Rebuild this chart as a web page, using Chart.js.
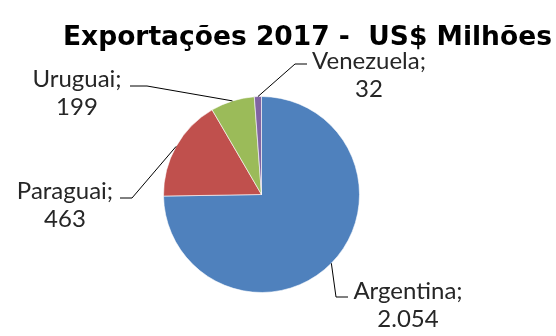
<!DOCTYPE html>
<html>
<head>
<meta charset="utf-8">
<script src="https://cdn.jsdelivr.net/npm/chart.js@4.4.0/dist/chart.umd.min.js"></script>
<style>
  html, body { margin: 0; padding: 0; background: #ffffff; }
  #wrap { width: 556px; height: 336px; position: relative; }
</style>
</head>
<body>
<div id="wrap"><canvas id="c" width="556" height="336"></canvas></div>
<script>
// Exports by destination, 2017 (US$ millions)
const categories = ['Argentina', 'Paraguai', 'Uruguai', 'Venezuela'];
const values = [2054, 463, 199, 32];
const valueLabels = ['2.054', '463', '199', '32'];
const titleText = 'Exportações 2017 -  US$ Milhões';

const sliceColors = ['#4F81BD', '#C0504D', '#9BBB59', '#8064A2'];

// Label placement: text centre / first baseline and leader-line elbow and end
const labelLayout = [
  { cx: 408, by: 299, elbow: [336, 297], end: [348, 297] },
  { cx: 65,  by: 199, elbow: [132, 198], end: [120, 198] },
  { cx: 77,  by: 87,  elbow: [147, 86],  end: [130, 86] },
  { cx: 369, by: 69,  elbow: [295, 64],  end: [307, 64] }
];

const LABEL_FONT = '24px Lato, "Open Sans", sans-serif';
const LINE_GAP = 28;

const titlePlugin = {
  id: 'titleText',
  afterDraw(chart) {
    const ctx = chart.ctx;
    ctx.save();
    ctx.font = 'bold 26.5px "DejaVu Sans", Verdana, sans-serif';
    ctx.fillStyle = '#000000';
    ctx.textAlign = 'left';
    ctx.textBaseline = 'alphabetic';
    ctx.fillText(titleText, 63, 45);
    ctx.restore();
  }
};

const leaderLabels = {
  id: 'leaderLabels',
  afterDatasetsDraw(chart) {
    const ctx = chart.ctx;
    const meta = chart.getDatasetMeta(0);
    ctx.save();
    meta.data.forEach((arc, i) => {
      const p = arc.getProps(['x', 'y', 'startAngle', 'endAngle', 'outerRadius'], true);
      const mid = (p.startAngle + p.endAngle) / 2;
      const ax = p.x + Math.cos(mid) * p.outerRadius;
      const ay = p.y + Math.sin(mid) * p.outerRadius;
      const L = labelLayout[i];
      ctx.beginPath();
      ctx.strokeStyle = '#000000';
      ctx.lineWidth = 1;
      ctx.moveTo(ax, ay);
      ctx.lineTo(L.elbow[0], L.elbow[1]);
      ctx.lineTo(L.end[0], L.end[1]);
      ctx.stroke();

      ctx.font = LABEL_FONT;
      ctx.fillStyle = '#262626';
      ctx.textAlign = 'center';
      ctx.textBaseline = 'alphabetic';
      ctx.fillText(categories[i] + ';', L.cx, L.by);
      ctx.fillText(valueLabels[i], L.cx, L.by + LINE_GAP);
    });
    ctx.restore();
  }
};

new Chart(document.getElementById('c'), {
  type: 'pie',
  data: {
    labels: categories,
    datasets: [{
      data: values,
      backgroundColor: sliceColors,
      borderColor: '#ffffff',
      borderWidth: 0.6
    }]
  },
  options: {
    responsive: false,
    animation: false,
    radius: 98,
    layout: { padding: { left: 163, right: 196, top: 96, bottom: 43 } },
    plugins: {
      legend: { display: false },
      tooltip: { enabled: false },
      title: { display: false }
    }
  },
  plugins: [titlePlugin, leaderLabels]
});
</script>
</body>
</html>
